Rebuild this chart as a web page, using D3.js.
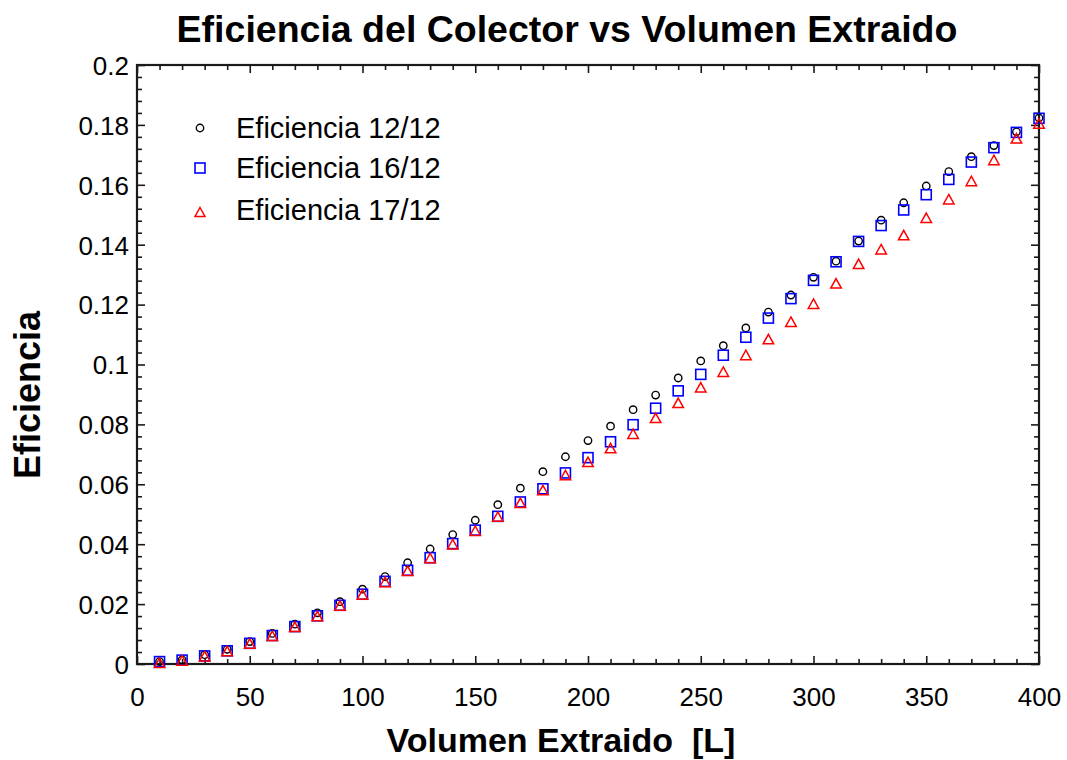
<!DOCTYPE html>
<html>
<head>
<meta charset="utf-8">
<script src="https://cdn.jsdelivr.net/npm/d3@7"></script>
<style>
  html, body { margin: 0; padding: 0; background: #fff; }
  svg { display: block; font-family: "Liberation Sans", Arial, sans-serif; }
</style>
</head>
<body>
<svg id="chart" width="1067" height="760"></svg>
<script>
// Extracted volume [L]
const volumen = [10, 20, 30, 40, 50, 60, 70, 80, 90, 100,
                 110, 120, 130, 140, 150, 160, 170, 180, 190, 200,
                 210, 220, 230, 240, 250, 260, 270, 280, 290, 300,
                 310, 320, 330, 340, 350, 360, 370, 380, 390, 400];

// Collector efficiency, 12/12
const eficiencia1212 = [0.0008, 0.0014, 0.0031, 0.0049, 0.0075, 0.0102, 0.0133, 0.0171, 0.0208, 0.0250,
                        0.0292, 0.0338, 0.0384, 0.0432, 0.0480, 0.0532, 0.0587, 0.0642, 0.0692, 0.0746,
                        0.0794, 0.0849, 0.0898, 0.0955, 0.1012, 0.1063, 0.1122, 0.1175, 0.1232, 0.1291,
                        0.1345, 0.1412, 0.1482, 0.1540, 0.1596, 0.1644, 0.1694, 0.1731, 0.1777, 0.1823];

// Collector efficiency, 16/12
const eficiencia1612 = [0.0008, 0.0013, 0.0027, 0.0044, 0.0069, 0.0095, 0.0125, 0.0161, 0.0196, 0.0233,
                        0.0276, 0.0313, 0.0355, 0.0402, 0.0447, 0.0493, 0.0541, 0.0585, 0.0638, 0.0689,
                        0.0742, 0.0799, 0.0854, 0.0912, 0.0967, 0.1031, 0.1091, 0.1155, 0.1220, 0.1281,
                        0.1343, 0.1411, 0.1464, 0.1516, 0.1567, 0.1618, 0.1676, 0.1724, 0.1775, 0.1822];

// Collector efficiency, 17/12
const eficiencia1712 = [0.0004, 0.0012, 0.0026, 0.0043, 0.0068, 0.0094, 0.0124, 0.0160, 0.0195, 0.0232,
                        0.0274, 0.0311, 0.0354, 0.0400, 0.0445, 0.0492, 0.0538, 0.0581, 0.0631, 0.0675,
                        0.0721, 0.0769, 0.0822, 0.0872, 0.0924, 0.0976, 0.1032, 0.1085, 0.1143, 0.1203,
                        0.1271, 0.1336, 0.1385, 0.1432, 0.1490, 0.1552, 0.1613, 0.1683, 0.1755, 0.1805];

const seriesNames = ["Eficiencia 12/12", "Eficiencia 16/12", "Eficiencia 17/12"];
const xTicks = [0, 50, 100, 150, 200, 250, 300, 350, 400];
const yTicks = [0, 0.02, 0.04, 0.06, 0.08, 0.1, 0.12, 0.14, 0.16, 0.18, 0.2];
const xMinorTicks = [10, 20, 30, 40, 60, 70, 80, 90, 110, 120, 130, 140, 160, 170, 180, 190,
                     210, 220, 230, 240, 260, 270, 280, 290, 310, 320, 330, 340, 360, 370, 380, 390];
const yMinorTicks = [0.004, 0.008, 0.012, 0.016, 0.024, 0.028, 0.032, 0.036, 0.044, 0.048, 0.052, 0.056,
                     0.064, 0.068, 0.072, 0.076, 0.084, 0.088, 0.092, 0.096, 0.104, 0.108, 0.112, 0.116,
                     0.124, 0.128, 0.132, 0.136, 0.144, 0.148, 0.152, 0.156, 0.164, 0.168, 0.172, 0.176,
                     0.184, 0.188, 0.192, 0.196];

const svg = d3.select("#chart");
const plot = { left: 137, right: 1039, top: 65, bottom: 664 };

const x = d3.scaleLinear().domain([0, 400]).range([plot.left, plot.right]);
const y = d3.scaleLinear().domain([0, 0.2]).range([plot.bottom, plot.top]);

const axisColor = "#1a1a1a";
const fmtY = v => (v === 0 ? "0" : String(+v.toFixed(2)));

// Triangle marker centred on its bounding box
function trianglePath(s) {
  const h = s * 0.9;
  return `M0,${-h / 2}L${s / 2},${h / 2}L${-s / 2},${h / 2}Z`;
}

// Axes with inward ticks on all four sides
function styleAxis(g) {
  g.select(".domain").remove();
  g.selectAll(".tick line").attr("stroke", axisColor).attr("stroke-width", 1.6);
}

// Bottom
svg.append("g").attr("transform", `translate(0,${plot.bottom})`)
  .call(d3.axisBottom(x).tickValues(xMinorTicks).tickSize(-5).tickFormat(""))
  .call(styleAxis);
const gxb = svg.append("g").attr("transform", `translate(0,${plot.bottom})`)
  .call(d3.axisBottom(x).tickValues(xTicks).tickSize(-8).tickPadding(0).tickFormat(d3.format("d")))
  .call(styleAxis);
gxb.selectAll(".tick text")
  .attr("y", 42).attr("dy", null)
  .attr("fill", "#000").attr("font-size", 26)
  .attr("font-family", "Liberation Sans, Arial, sans-serif");

// Top
svg.append("g").attr("transform", `translate(0,${plot.top})`)
  .call(d3.axisTop(x).tickValues(xMinorTicks).tickSize(-5).tickFormat(""))
  .call(styleAxis);
svg.append("g").attr("transform", `translate(0,${plot.top})`)
  .call(d3.axisTop(x).tickValues(xTicks).tickSize(-8).tickFormat(""))
  .call(styleAxis);

// Left
svg.append("g").attr("transform", `translate(${plot.left},0)`)
  .call(d3.axisLeft(y).tickValues(yMinorTicks).tickSize(-5).tickFormat(""))
  .call(styleAxis);
const gyl = svg.append("g").attr("transform", `translate(${plot.left},0)`)
  .call(d3.axisLeft(y).tickValues(yTicks).tickSize(-8).tickFormat(fmtY))
  .call(styleAxis);
gyl.selectAll(".tick text")
  .attr("x", -8).attr("dy", "0.36em")
  .attr("fill", "#000").attr("font-size", 26)
  .attr("font-family", "Liberation Sans, Arial, sans-serif");

// Right
svg.append("g").attr("transform", `translate(${plot.right},0)`)
  .call(d3.axisRight(y).tickValues(yMinorTicks).tickSize(-5).tickFormat(""))
  .call(styleAxis);
svg.append("g").attr("transform", `translate(${plot.right},0)`)
  .call(d3.axisRight(y).tickValues(yTicks).tickSize(-8).tickFormat(""))
  .call(styleAxis);

// Frame
svg.append("rect")
  .attr("x", plot.left).attr("y", plot.top)
  .attr("width", plot.right - plot.left).attr("height", plot.bottom - plot.top)
  .attr("fill", "none").attr("stroke", axisColor).attr("stroke-width", 2.2);

// Data series
const pts = (vals) => volumen.map((v, i) => ({ v, e: vals[i] }));

svg.append("g").selectAll("circle").data(pts(eficiencia1212)).join("circle")
  .attr("cx", d => x(d.v)).attr("cy", d => y(d.e)).attr("r", 3.7)
  .attr("fill", "none").attr("stroke", "#000").attr("stroke-width", 1.4);

svg.append("g").selectAll("rect").data(pts(eficiencia1612)).join("rect")
  .attr("x", d => x(d.v) - 5).attr("y", d => y(d.e) - 5)
  .attr("width", 10).attr("height", 10)
  .attr("fill", "none").attr("stroke", "#0000ff").attr("stroke-width", 1.6);

svg.append("g").selectAll("path").data(pts(eficiencia1712)).join("path")
  .attr("transform", d => `translate(${x(d.v)},${y(d.e)})`)
  .attr("d", trianglePath(10.5))
  .attr("fill", "none").attr("stroke", "#ff0000").attr("stroke-width", 1.5);

// Legend
const legend = svg.append("g");
const legendY = [128, 168, 212];
const lx = 200;
legend.append("circle").attr("cx", lx).attr("cy", legendY[0]).attr("r", 3.7)
  .attr("fill", "none").attr("stroke", "#000").attr("stroke-width", 1.4);
legend.append("rect").attr("x", lx - 5).attr("y", legendY[1] - 5).attr("width", 10).attr("height", 10)
  .attr("fill", "none").attr("stroke", "#0000ff").attr("stroke-width", 1.6);
legend.append("path").attr("transform", `translate(${lx},${legendY[2]})`).attr("d", trianglePath(10))
  .attr("fill", "none").attr("stroke", "#ff0000").attr("stroke-width", 1.5);
legend.selectAll("text").data(seriesNames).join("text")
  .attr("x", 236).attr("y", (d, i) => [138, 178, 220][i])
  .attr("font-size", 29).attr("fill", "#000")
  .text(d => d);

// Titles
svg.append("text")
  .attr("x", 567).attr("y", 42).attr("text-anchor", "middle")
  .attr("font-size", 37.5).attr("font-weight", "bold").attr("fill", "#000")
  .text("Eficiencia del Colector vs Volumen Extraido");

svg.append("text")
  .attr("x", 561).attr("y", 752).attr("text-anchor", "middle")
  .attr("font-size", 34).attr("font-weight", "bold").attr("fill", "#000")
  .attr("xml:space", "preserve").style("white-space", "pre")
  .text("Volumen Extraido  [L]");

svg.append("text")
  .attr("transform", "translate(40,395) rotate(-90)").attr("text-anchor", "middle")
  .attr("font-size", 36).attr("font-weight", "bold").attr("fill", "#000")
  .text("Eficiencia");
</script>
</body>
</html>
